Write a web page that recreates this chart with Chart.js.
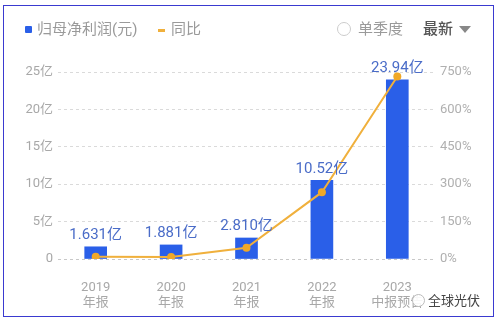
<!DOCTYPE html>
<html>
<head>
<meta charset="utf-8">
<script src="https://cdn.jsdelivr.net/npm/chart.js@4"></script>
<style>
html,body{margin:0;padding:0;background:#fff;}
#wrap{position:relative;width:500px;height:324px;overflow:hidden;font-family:Roboto,"Noto Sans CJK SC",sans-serif;}
#frame{position:absolute;left:3px;top:5px;width:491px;height:312px;border:1.5px solid #3a3ad0;box-sizing:border-box;pointer-events:none;}
canvas{position:absolute;left:0;top:0;}
.t{position:absolute;white-space:nowrap;line-height:1;}
</style>
</head>
<body>
<div id="wrap">
<canvas id="c" width="500" height="324"></canvas>
<div class="t" style="left:25px;top:26px;width:7px;height:7px;background:#2a5fe8;border-radius:1px;"></div>
<div class="t" style="left:37px;top:22px;font-size:15px;color:#9a9a9a;">归母净利润(元)</div>
<div class="t" style="left:158px;top:29px;width:7px;height:2.5px;background:#f0b03c;"></div>
<div class="t" style="left:171px;top:22px;font-size:15px;color:#9a9a9a;">同比</div>
<div class="t" style="left:337px;top:22px;width:14px;height:14px;border:1px solid #ccc;border-radius:50%;box-sizing:border-box;"></div>
<div class="t" style="left:358px;top:22px;font-size:15px;color:#9a9a9a;">单季度</div>
<div class="t" style="left:423px;top:22px;font-size:15px;color:#555;font-weight:500;">最新</div>
<div class="t" style="left:459px;top:26px;width:0;height:0;border-left:6px solid transparent;border-right:6px solid transparent;border-top:7px solid #888;"></div>
<div class="t" style="left:412px;top:294px;width:13px;height:13px;border-radius:50%;background:rgba(255,255,255,0.9);border:1px solid #bbb;box-sizing:border-box;"></div>
<div class="t" style="left:428px;top:294px;font-size:13px;color:#444;">全球光伏</div>
<div id="frame"></div>
</div>
<script>
const categories = [['2019','年报'],['2020','年报'],['2021','年报'],['2022','年报'],['2023','中报预告']];
const profitValues = [1.631, 1.881, 2.810, 10.52, 23.94];
const profitLabels = ['1.631亿','1.881亿','2.810亿','10.52亿','23.94亿'];
const yoyValues = [9, 8, 45, 268, 732];
const leftTicks = [0, 5, 10, 15, 20, 25];
const rightTicks = [0, 150, 300, 450, 600, 750];

new Chart(document.getElementById('c'), {
  data: {
    labels: categories,
    datasets: [
      {
        type: 'line',
        data: yoyValues,
        yAxisID: 'y2',
        borderColor: '#f0b03c',
        backgroundColor: '#f0a828',
        borderWidth: 2,
        pointRadius: 4,
        pointBorderWidth: 0,
        tension: 0,
        order: 0
      },
      {
        type: 'bar',
        data: profitValues,
        yAxisID: 'y',
        backgroundColor: '#2a5fe8',
        barThickness: 22,
        order: 1
      }
    ]
  },
  plugins: [{
    id: 'barLabels',
    afterDatasetsDraw(chart) {
      const ctx = chart.ctx;
      const meta = chart.getDatasetMeta(1);
      ctx.save();
      ctx.font = '15px Roboto, "Noto Sans CJK SC", sans-serif';
      ctx.fillStyle = '#4a6cc8';
      ctx.textAlign = 'center';
      ctx.textBaseline = 'bottom';
      meta.data.forEach((bar, i) => {
        ctx.fillText(profitLabels[i], bar.x, bar.y - 4);
      });
      ctx.restore();
    }
  }],
  options: {
    responsive: false,
    animation: false,
    layout: { padding: { top: 72, left: 0, right: 0, bottom: 0 } },
    plugins: { legend: { display: false }, tooltip: { enabled: false } },
    scales: {
      x: {
        grid: { display: false, drawTicks: false },
        border: { display: false },
        ticks: { color: '#a8a8a8', font: { size: 13, family: 'Roboto, "Noto Sans CJK SC", sans-serif', lineHeight: 1.15 }, padding: 21, maxRotation: 0, autoSkip: false },
        afterFit(s) { s.height = 65; }
      },
      y: {
        position: 'left',
        min: 0, max: 25,
        afterBuildTicks(s) { s.ticks = leftTicks.map(v => ({ value: v })); },
        grid: { color: ctx => ctx.index === 0 ? '#c8c8c8' : '#dadada', lineWidth: 1, drawTicks: false },
        border: { display: false, dash: [3, 3] },
        ticks: {
          color: '#a8a8a8', padding: 5,
          font: { size: 13, family: 'Roboto, "Noto Sans CJK SC", sans-serif' },
          callback: v => v === 0 ? '0' : v + '亿'
        },
        afterFit(s) { s.width = 58; }
      },
      y2: {
        position: 'right',
        min: 0, max: 750,
        afterBuildTicks(s) { s.ticks = rightTicks.map(v => ({ value: v })); },
        grid: { display: false, drawTicks: false },
        border: { display: false },
        ticks: {
          color: '#b0b0b0', padding: 5,
          font: { size: 13, family: 'Roboto, "Noto Sans CJK SC", sans-serif' },
          callback: v => v + '%'
        },
        afterFit(s) { s.width = 65; }
      }
    }
  }
});
</script>
</body>
</html>
